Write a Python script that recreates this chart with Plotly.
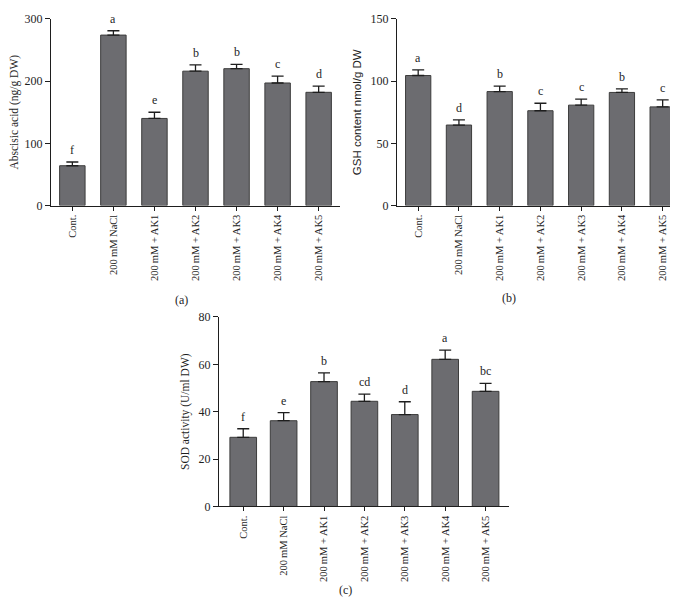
import plotly.graph_objects as go

# ---- data ----
groups = ["Cont.", "200\u2009mM NaCl", "200\u2009mM + AK1", "200\u2009mM + AK2",
          "200\u2009mM + AK3", "200\u2009mM + AK4", "200\u2009mM + AK5"]

aba_mean = [64, 274, 140, 216, 220, 197, 182]
aba_err = [6, 7, 10, 10, 7, 11, 10]
aba_letters = ["f", "a", "e", "b", "b", "c", "d"]

gsh_mean = [104.5, 64.7, 91.6, 76.2, 80.7, 90.9, 79.3]
gsh_err = [4.5, 4.2, 4.4, 6.0, 4.9, 2.8, 5.7]
gsh_letters = ["a", "d", "b", "c", "c", "b", "c"]

sod_mean = [29.2, 36.2, 52.7, 44.4, 38.8, 62.1, 48.6]
sod_err = [3.6, 3.4, 3.7, 3.0, 5.4, 3.9, 3.4]
sod_letters = ["f", "e", "b", "cd", "d", "a", "bc"]

W, H = 678, 612
SERIF = "Liberation Serif, Times New Roman, serif"
SANS = "Liberation Sans, Arial, sans-serif"
BAR = "#6c6c70"
EDGE = "#3c3c3c"
INK = "#1e1e1e"


def px_x(p):
    return p / W


def px_y(p):
    return (H - p) / H


fig = go.Figure()

panels = [
    ("x", "y", aba_mean, aba_err, aba_letters, 0.62),
    ("x2", "y2", gsh_mean, gsh_err, gsh_letters, 0.62),
    ("x3", "y3", sod_mean, sod_err, sod_letters, 0.66),
]

for xa, ya, mean, err, letters, bw in panels:
    fig.add_trace(go.Bar(
        x=groups, y=mean, xaxis=xa, yaxis=ya, width=bw,
        marker=dict(color=BAR, line=dict(color=EDGE, width=1)),
        error_y=dict(type="data", array=err, arrayminus=[0] * len(err),
                     symmetric=False, color=INK, thickness=1.3, width=6),
        showlegend=False, hoverinfo="skip",
    ))
    for g, m, e, t in zip(groups, mean, err, letters):
        fig.add_annotation(x=g, y=m + e, xref=xa, yref=ya, text=t,
                           showarrow=False, yanchor="bottom", yshift=3,
                           font=dict(family=SERIF, size=12, color=INK))


def xax(dom, rng):
    return dict(domain=dom, range=rng, type="category", showline=True,
                linecolor=INK, linewidth=1, ticks="outside", ticklen=4,
                tickcolor=INK, tickangle=-90, showgrid=False, zeroline=False,
                tickfont=dict(family=SERIF, size=10.5, color=INK), fixedrange=True)


def yax(dom, rng, dtick, title, tfont, anchor):
    return dict(domain=dom, range=rng, dtick=dtick, showline=True,
                linecolor=INK, linewidth=1, ticks="outside", ticklen=5,
                tickcolor=INK, showgrid=False, zeroline=False, anchor=anchor,
                tickfont=dict(family=SERIF, size=12, color=INK),
                title=dict(text=title, font=dict(family=tfont, size=11.5, color=INK),
                           standoff=6), fixedrange=True)


fig.update_layout(
    width=W, height=H,
    margin=dict(l=0, r=0, t=0, b=0),
    paper_bgcolor="white", plot_bgcolor="white",
    xaxis=dict(xax([px_x(43), px_x(332)], [-0.52, 6.52]), anchor="y"),
    yaxis=yax([px_y(195), px_y(4)], [0, 300], 100, "Abscisic acid (ng/g DW)", SERIF, "x"),
    xaxis2=dict(xax([px_x(389), px_x(673)], [-0.52, 6.45]), anchor="y2"),
    yaxis2=yax([px_y(195), px_y(4)], [0, 150], 50, "GSH content nmol/g DW", SANS, "x2"),
    xaxis3=dict(xax([px_x(211), px_x(501)], [-0.6, 6.58]), anchor="y3"),
    yaxis3=yax([px_y(503), px_y(309)], [0, 80], 20, "SOD activity (U/ml DW)", SERIF, "x3"),
)

for lab, xp, yp in [("(a)", 165, 292), ("(b)", 510, 290), ("(c)", 337, 598)]:
    fig.add_annotation(x=px_x(xp), y=px_y(yp), xref="paper", yref="paper",
                       text=lab, showarrow=False,
                       font=dict(family=SERIF, size=12, color=INK))

fig.write_html("out.html")
